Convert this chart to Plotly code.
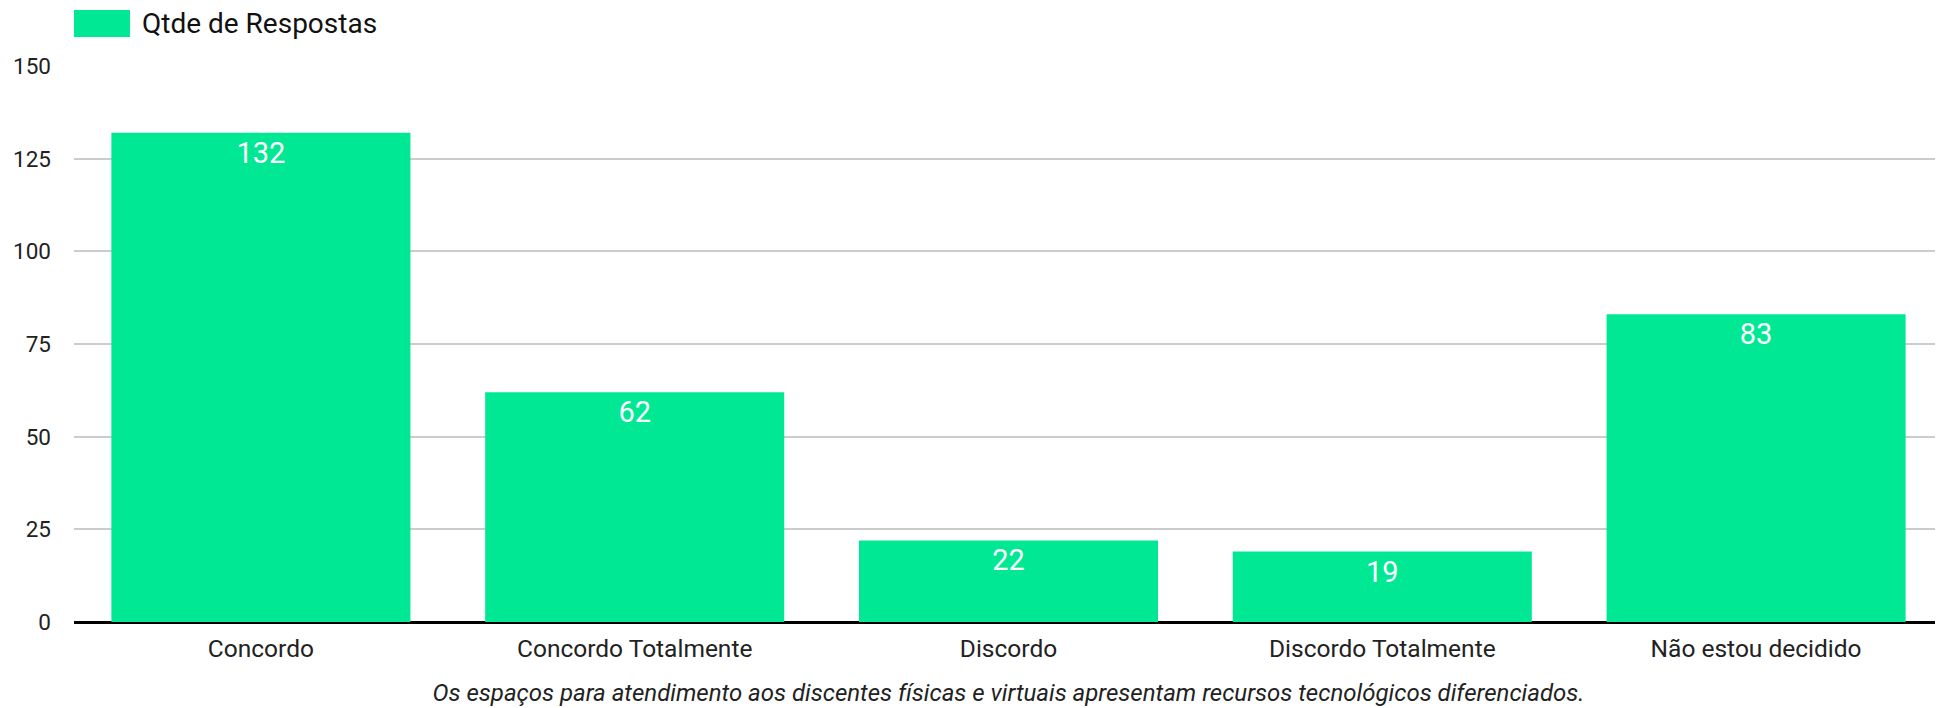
import plotly.graph_objects as go

categories = ["Concordo", "Concordo Totalmente", "Discordo", "Discordo Totalmente", "Não estou decidido"]
values = [132, 62, 22, 19, 83]
series_name = "Qtde de Respostas"
y_ticks = [0, 25, 50, 75, 100, 125, 150]
x_title = "Os espaços para atendimento aos discentes físicas e virtuais apresentam recursos tecnológicos diferenciados."

BAR = "#00E893"
FONT = "Roboto"

fig = go.Figure()
fig.add_trace(go.Bar(
    x=categories, y=values, name=series_name,
    marker=dict(color=BAR, line=dict(width=0)),
    text=[str(v) for v in values], textposition="inside", insidetextanchor="end",
    textfont=dict(family=FONT, size=29, color="white"),
    textangle=0,
    showlegend=False,
))

fig.update_layout(
    width=1935, height=700,
    margin=dict(l=66, r=0, t=58, b=86),
    paper_bgcolor="white", plot_bgcolor="white",
    bargap=0.2,
    font=dict(family=FONT, color="#222222"),
    xaxis=dict(
        automargin=False,
        showgrid=False, showline=False, zeroline=False, ticks="",
        tickfont=dict(family=FONT, size=24.5, color="#222222"),
        ticklabelstandoff=9,
        title=dict(text=x_title, font=dict(family=FONT, size=24, color="#222222", style="italic"), standoff=22),
    ),
    yaxis=dict(
        automargin=False,
        range=[0, 150], tickvals=y_ticks, showgrid=True, gridcolor="#cccccc", gridwidth=2,
        zeroline=True, zerolinecolor="black", zerolinewidth=3,
        tickfont=dict(family=FONT, size=22.5, color="#222222"),
        ticklabelstandoff=22,
    ),
    shapes=[dict(type="rect", xref="paper", yref="paper", x0=0, x1=56/1869, y0=1 + 29/556, y1=1 + 56/556,
                 fillcolor=BAR, line=dict(width=0))],
    annotations=[dict(text=series_name, xref="paper", yref="paper", x=66/1869, y=1 + 43/556,
                      xanchor="left", yanchor="middle", showarrow=False,
                      font=dict(family=FONT, size=28, color="#111111"))],
)

fig.write_html("out.html")
